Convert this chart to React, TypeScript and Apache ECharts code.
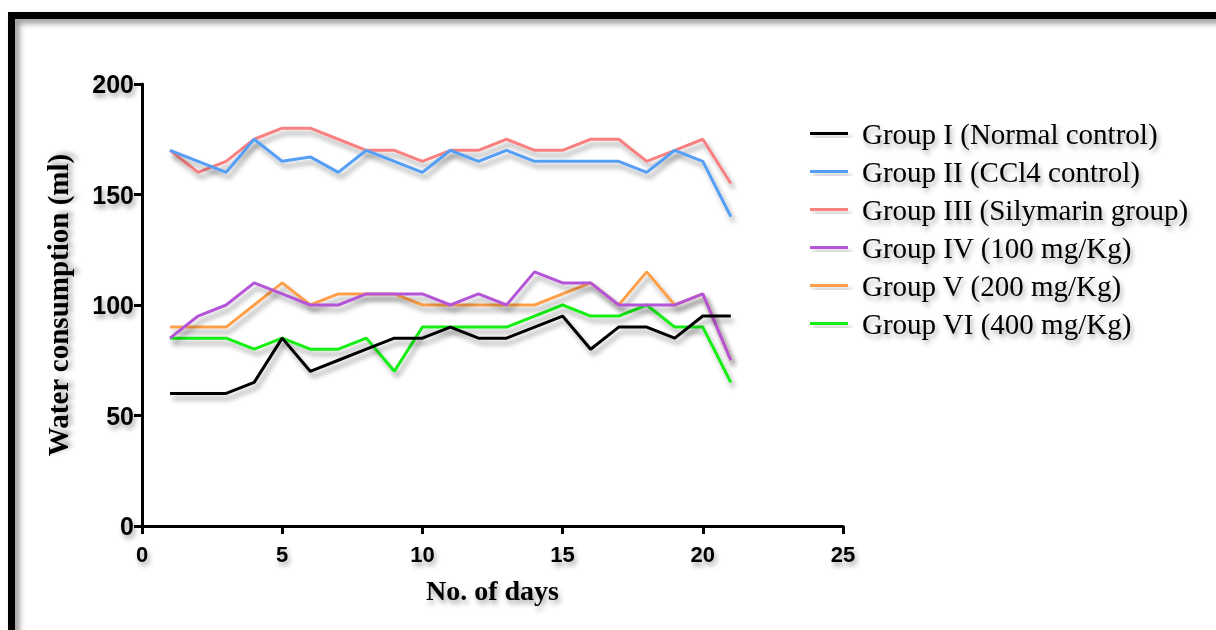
import React, { useEffect, useRef } from "react";
import * as echarts from "echarts";

const days = [1, 2, 3, 4, 5, 6, 7, 8, 9, 10, 11, 12, 13, 14, 15, 16, 17, 18, 19, 20, 21];
const groupI = [60, 60, 60, 65, 85, 70, 75, 80, 85, 85, 90, 85, 85, 90, 95, 80, 90, 90, 85, 95, 95];
const groupII = [170, 165, 160, 175, 165, 167, 160, 170, 165, 160, 170, 165, 170, 165, 165, 165, 165, 160, 170, 165, 140];
const groupIII = [170, 160, 165, 175, 180, 180, 175, 170, 170, 165, 170, 170, 175, 170, 170, 175, 175, 165, 170, 175, 155];
const groupIV = [85, 95, 100, 110, 105, 100, 100, 105, 105, 105, 100, 105, 100, 115, 110, 110, 100, 100, 100, 105, 75];
const groupV = [90, 90, 90, 100, 110, 100, 105, 105, 105, 100, 100, 100, 100, 100, 105, 110, 100, 115, 100, 105, 75];
const groupVI = [85, 85, 85, 80, 85, 80, 80, 85, 70, 90, 90, 90, 90, 95, 100, 95, 95, 100, 90, 90, 65];

const seriesNames = [
  "Group I (Normal control)",
  "Group II (CCl4 control)",
  "Group III (Silymarin group)",
  "Group IV (100 mg/Kg)",
  "Group V (200 mg/Kg)",
  "Group VI (400 mg/Kg)",
];
const seriesValues = [groupI, groupII, groupIII, groupIV, groupV, groupVI];
const seriesColors = ["#000000", "#559ef5", "#f98080", "#b455d8", "#fea04a", "#12ee12"];

const xTicks = { min: 0, max: 25, interval: 5 };
const yTicks = { min: 0, max: 200, interval: 50 };

const textShadow = {
  textShadowColor: "rgba(0,0,0,0.35)",
  textShadowBlur: 5,
  textShadowOffsetX: 2,
  textShadowOffsetY: 4,
};
const lineShadow = {
  shadowColor: "rgba(0,0,0,0.35)",
  shadowBlur: 5,
  shadowOffsetX: 3,
  shadowOffsetY: 5,
};

export default function App() {
  const ref = useRef<HTMLDivElement>(null);
  useEffect(() => {
    if (!ref.current) return;
    const chart = echarts.init(ref.current, undefined, { renderer: "svg" });
    const axisCommon = {
      axisLine: { show: true, onZero: false, lineStyle: { color: "#000", width: 3 } },
      axisTick: { show: true, inside: false, length: 8, lineStyle: { color: "#000", width: 3 } },
      splitLine: { show: false },
    };
    chart.setOption({
      animation: false,
      backgroundColor: "#ffffff",
      graphic: [
        {
          type: "rect",
          shape: { x: 11.5, y: 15.5, width: 1240, height: 660 },
          style: {
            fill: "none",
            stroke: "#000",
            lineWidth: 7,
            shadowColor: "rgba(0,0,0,0.45)",
            shadowBlur: 6,
            shadowOffsetX: 4,
            shadowOffsetY: 4,
          },
          silent: true,
        },
      ],
      grid: { left: 142, right: 373, top: 84, bottom: 104, containLabel: false },
      legend: {
        orient: "vertical",
        left: 805,
        top: 114,
        itemGap: 9,
        icon: "rect",
        itemWidth: 38,
        itemHeight: 3,
        data: seriesNames,
        textStyle: {
          fontFamily: "'Liberation Serif', 'Times New Roman', serif",
          fontSize: 29,
          lineHeight: 29,
          color: "#000",
          padding: [0, 0, 0, 9],
          ...textShadow,
        },
        itemStyle: { ...lineShadow },
      },
      xAxis: {
        type: "value",
        ...xTicks,
        name: "No. of days",
        nameLocation: "middle",
        nameGap: 50,
        nameTextStyle: {
          fontFamily: "'Liberation Serif', 'Times New Roman', serif",
          fontWeight: "bold",
          fontSize: 28,
          color: "#000",
          ...textShadow,
        },
        ...axisCommon,
        axisLabel: {
          margin: 17,
          fontFamily: "'Liberation Sans Narrow', 'Liberation Sans', Arial, sans-serif",
          fontWeight: "bold",
          fontSize: 22,
          color: "#000",
          ...textShadow,
        },
      },
      yAxis: {
        type: "value",
        ...yTicks,
        name: "Water consumption (ml)",
        nameLocation: "middle",
        nameGap: 70,
        nameTextStyle: {
          fontFamily: "'Liberation Serif', 'Times New Roman', serif",
          fontWeight: "bold",
          fontSize: 29,
          color: "#000",
          ...textShadow,
        },
        ...axisCommon,
        axisLabel: {
          margin: 8,
          fontFamily: "'Liberation Sans', Arial, sans-serif",
          fontWeight: "bold",
          fontSize: 25,
          color: "#000",
          ...textShadow,
        },
      },
      series: seriesNames.map((name, i) => ({
        name,
        type: "line",
        symbol: "none",
        data: days.map((d, j) => [d, seriesValues[i][j]]),
        color: seriesColors[i],
        lineStyle: { color: seriesColors[i], width: 3, ...lineShadow },
        z: 2 + (seriesNames.length - i),
      })),
    });
    return () => chart.dispose();
  }, []);
  return (
    <div
      ref={ref}
      style={{ position: "fixed", left: 0, top: 0, width: 1216, height: 630, background: "#fff" }}
    />
  );
}
